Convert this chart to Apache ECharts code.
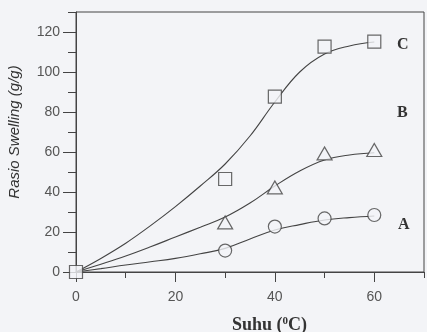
<!DOCTYPE html>
<html>
<head>
<meta charset="utf-8">
<script src="https://cdn.jsdelivr.net/npm/echarts@6/dist/echarts.min.js"></script>
<style>
html,body{margin:0;padding:0;background:#f3f4f7;}
#chart{width:427px;height:332px;}
</style>
</head>
<body>
<div id="chart"></div>
<script>
// Fitted curves
const curveX = [0, 5, 10, 15, 20, 25, 30, 35, 40, 45, 50, 55, 60];
const curveA = [0, 1.7, 3.5, 5.1, 6.8, 9.1, 11.8, 16.5, 21, 23.7, 26, 27.2, 28];
const curveB = [0, 3.9, 8, 12.6, 17.5, 22.4, 27.5, 34.5, 43, 50.5, 56, 58.5, 59.6];
const curveC = [0, 6.8, 14.4, 23.2, 32.7, 43, 54, 68, 85, 100, 109, 113, 115];
// Measured points
const pointX = [0, 30, 40, 50, 60];
const pointA = [0, 10.7, 22.7, 26.8, 28.5];
const pointB = [0, 24.8, 42.3, 59.3, 61];
const pointC = [0, 46.5, 87.7, 112.7, 115.2];
// Ticks / labels
const xLabelTicks = [0, 20, 40, 60];
const yLabelTicks = [0, 20, 40, 60, 80, 100, 120];
const seriesNames = ['A', 'B', 'C'];
const xTitle = 'Suhu (';
const yTitle = 'Rasio Swelling (g/g)';

const BG = '#f3f4f7';
const INK = '#444';

function pairs(xs, ys) { return xs.map((x, i) => [x, ys[i]]); }

const chart = echarts.init(document.getElementById('chart'));
const axisCommon = {
  type: 'value',
  splitLine: { show: false },
  axisLine: { lineStyle: { color: INK, width: 1 } }
};
const markerStyle = { color: BG, borderColor: INK, borderWidth: 1.2 };
const lineStyle = { color: INK, width: 1.1 };

chart.setOption({
  backgroundColor: BG,
  animation: false,
  grid: { left: 76, right: -2, top: 12, bottom: 60, show: true, borderColor: INK, borderWidth: 1 },
  xAxis: [
    Object.assign({}, axisCommon, {
      min: 0, max: 70, interval: 10, position: 'bottom',
      axisTick: { length: 6, lineStyle: { color: INK } },
      axisLabel: {
        margin: 18, fontSize: 14, color: '#555', fontFamily: 'Liberation Sans',
        formatter: v => xLabelTicks.indexOf(v) >= 0 ? String(v) : ''
      }
    }),
    Object.assign({}, axisCommon, {
      min: 0, max: 70, interval: 10, position: 'bottom',
      axisLine: { show: false },
      axisTick: { length: 10, customValues: xLabelTicks, lineStyle: { color: INK } },
      axisLabel: { show: false }
    })
  ],
  yAxis: [
    Object.assign({}, axisCommon, {
      min: 0, max: 130, interval: 10, position: 'left',
      axisTick: { length: 8, lineStyle: { color: INK } },
      axisLabel: {
        margin: 16, fontSize: 14, color: '#555', fontFamily: 'Liberation Sans',
        formatter: v => yLabelTicks.indexOf(v) >= 0 ? String(v) : ''
      }
    }),
    Object.assign({}, axisCommon, {
      min: 0, max: 130, interval: 10, position: 'left',
      axisLine: { show: false },
      axisTick: { length: 13, customValues: yLabelTicks, lineStyle: { color: INK } },
      axisLabel: { show: false }
    })
  ],
  series: [
    { type: 'line', smooth: 0.4, showSymbol: false, data: pairs(curveX, curveA), lineStyle: lineStyle, z: 2 },
    { type: 'line', smooth: 0.4, showSymbol: false, data: pairs(curveX, curveB), lineStyle: lineStyle, z: 2 },
    { type: 'line', smooth: 0.4, showSymbol: false, data: pairs(curveX, curveC), lineStyle: lineStyle, z: 2 },
    { name: 'A', type: 'scatter', symbol: 'circle', symbolSize: 13, data: pairs(pointX, pointA).slice(1), itemStyle: markerStyle, z: 3 },
    { name: 'B', type: 'scatter', symbol: 'triangle', symbolSize: [15, 13], data: pairs(pointX, pointB).slice(1), itemStyle: markerStyle, z: 3 },
    { name: 'C', type: 'scatter', symbol: 'rect', symbolSize: 13, data: pairs(pointX, pointC), itemStyle: markerStyle, z: 4 }
  ],
  graphic: [
    { type: 'text', left: 397, top: 37, style: { text: seriesNames[2], font: 'bold 16px "Liberation Serif"', fill: '#333' } },
    { type: 'text', left: 397, top: 105, style: { text: seriesNames[1], font: 'bold 16px "Liberation Serif"', fill: '#333' } },
    { type: 'text', left: 398, top: 217, style: { text: seriesNames[0], font: 'bold 16px "Liberation Serif"', fill: '#333' } },
    { type: 'text', x: 15, y: 132, rotation: Math.PI / 2, style: {
        text: yTitle, font: 'italic 15px "Liberation Sans"', fill: '#333',
        align: 'center', verticalAlign: 'middle'
      } },
    { type: 'text', left: 232, top: 316, style: {
        text: '{t|' + xTitle + '}{s|0}{t|C)}',
        rich: {
          t: { font: 'bold 18px "Liberation Serif"', fill: '#333' },
          s: { font: 'bold 11px "Liberation Serif"', fill: '#333', verticalAlign: 'top', padding: [0, 0, 8, 0] }
        }
      } }
  ]
});
</script>
</body>
</html>
